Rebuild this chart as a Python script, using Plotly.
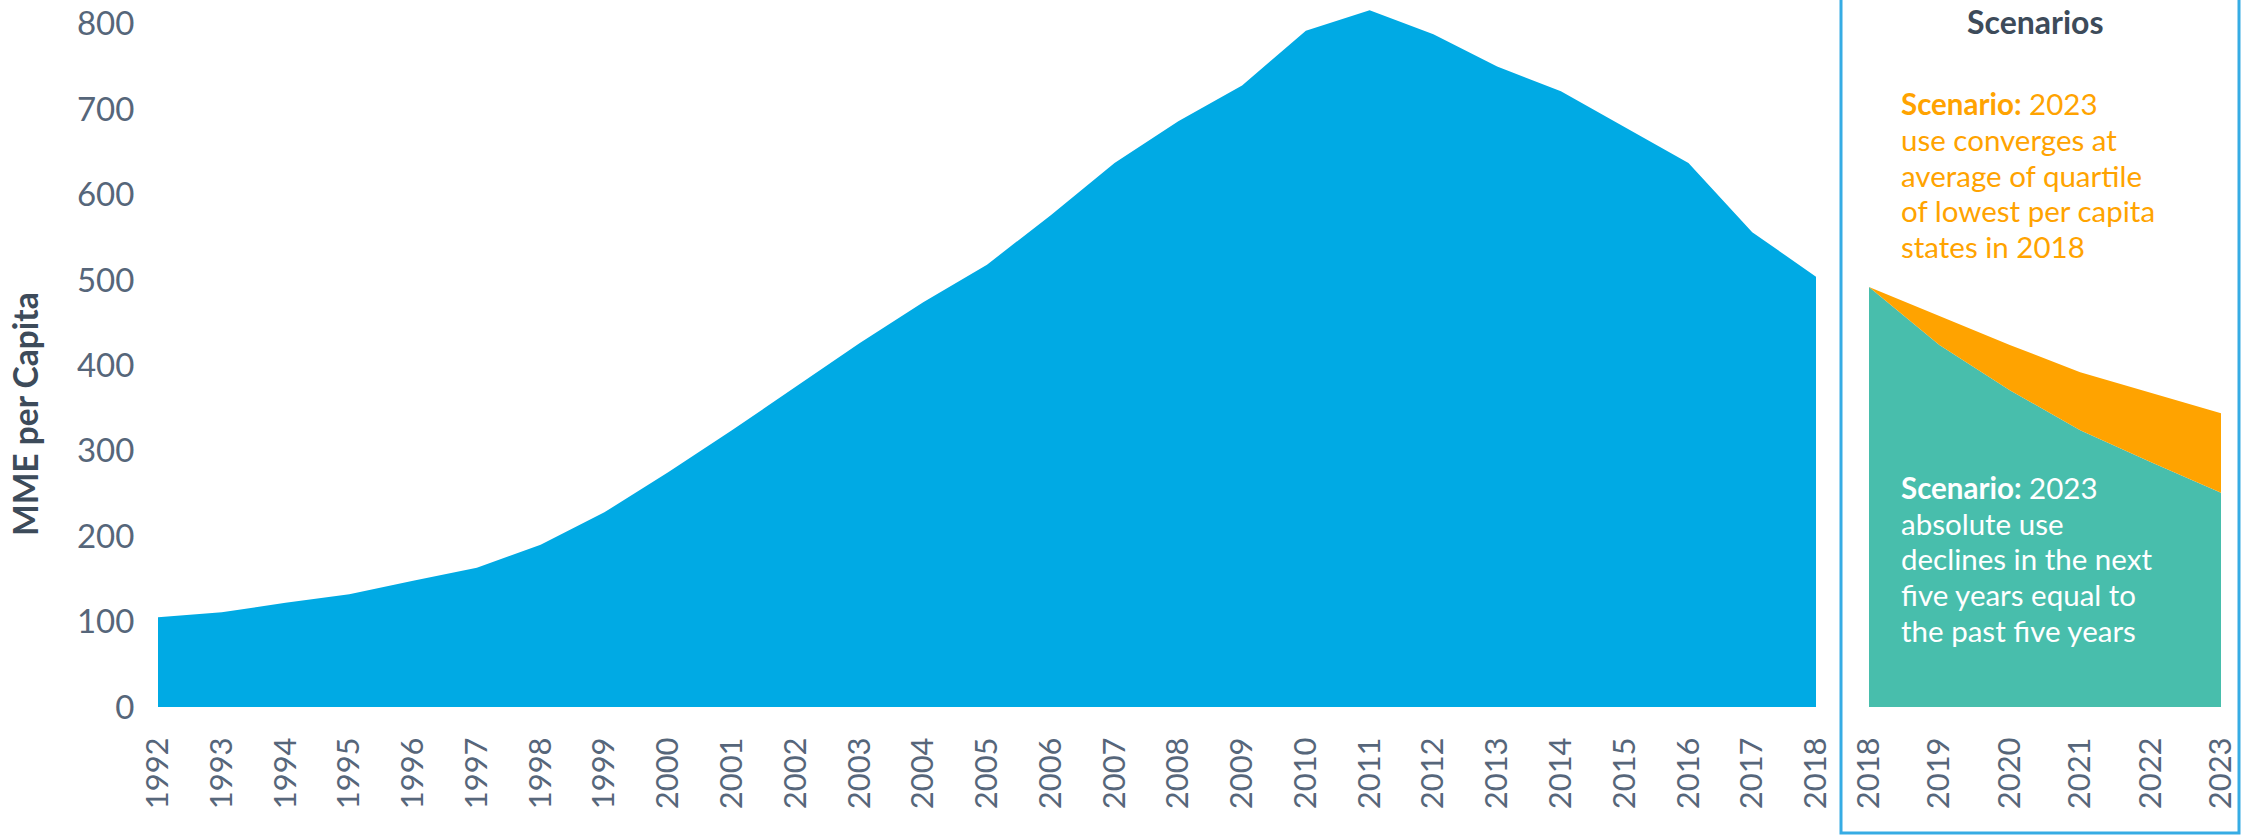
import plotly.graph_objects as go

# ---- data ----
years = list(range(1992, 2019))
mme_per_capita = [105, 111, 122, 132, 148, 163, 190, 228, 275, 324, 375, 426, 474, 518,
                  576, 637, 686, 728, 792, 816, 788, 750, 721, 679, 637, 556, 504]

scen_years = [2018, 2019, 2020, 2021, 2022, 2023]
scen_absolute_decline = [492, 424, 371, 324, 287, 251]
scen_quartile_converge = [492, 458, 424, 392, 368, 344]

y_ticks = [0, 100, 200, 300, 400, 500, 600, 700, 800]

orange_lines = ["<b>Scenario:</b> 2023", "use converges at", "average of quartile",
                "of lowest per capita", "states in 2018"]
white_lines = ["<b>Scenario:</b> 2023", "absolute use", "declines in the next",
               "five years equal to", "the past five years"]

BLUE = "#00AAE4"
TEAL = "#48BEAC"
ORANGE = "#FFA300"
TICK_COLOR = "#56667a"
DARK = "#3d4b5a"
FONT = "Lato"

W, H = 2242, 836
ML, MR, MT, MB = 158, 21, 0, 129
plot_w = W - ML - MR
plot_h = H - MT - MB


def px_x(px):
    return (px - ML) / plot_w


def px_y(py):
    return (H - MB - py) / plot_h


fig = go.Figure()

fig.add_trace(go.Scatter(
    x=years, y=mme_per_capita, mode="lines", fill="tozeroy",
    line=dict(width=0, color=BLUE), fillcolor=BLUE,
    xaxis="x", yaxis="y", showlegend=False, hoverinfo="x+y"))

fig.add_trace(go.Scatter(
    x=scen_years, y=scen_absolute_decline, mode="lines", fill="tozeroy",
    line=dict(width=0, color=TEAL), fillcolor=TEAL,
    xaxis="x2", yaxis="y", showlegend=False))

fig.add_trace(go.Scatter(
    x=scen_years, y=scen_quartile_converge, mode="lines", fill="tonexty",
    line=dict(width=0, color=ORANGE), fillcolor=ORANGE,
    xaxis="x2", yaxis="y", showlegend=False))

tickfont = dict(family=FONT, size=31, color=TICK_COLOR)

fig.update_layout(
    width=W, height=H,
    margin=dict(l=ML, r=MR, t=MT, b=MB, pad=0),
    paper_bgcolor="white", plot_bgcolor="white",
    xaxis=dict(domain=[0, px_x(1816)], range=[1992, 2018],
               tickmode="array", tickvals=years, ticktext=[str(y) for y in years],
               tickangle=-90, tickfont=tickfont,
               ticks="outside", ticklen=17, tickcolor="rgba(0,0,0,0)",
               showgrid=False, zeroline=False, showline=False, anchor="y"),
    xaxis2=dict(domain=[px_x(1869), 1], range=[2018, 2023],
                tickmode="array", tickvals=scen_years, ticktext=[str(y) for y in scen_years],
                tickangle=-90, tickfont=tickfont,
                ticks="outside", ticklen=17, tickcolor="rgba(0,0,0,0)",
                showgrid=False, zeroline=False, showline=False, anchor="y"),
    yaxis=dict(range=[0, 828], tickmode="array", tickvals=y_ticks,
               tickfont=dict(family=FONT, size=33, color=TICK_COLOR),
               ticks="outside", ticklen=16, tickcolor="rgba(0,0,0,0)",
               showgrid=False, zeroline=False, showline=False),
    showlegend=False,
)

# scenario box
fig.add_shape(type="rect", xref="paper", yref="paper",
              x0=px_x(1841), x1=px_x(2239), y0=px_y(833), y1=1.1,
              line=dict(color="#36ACE4", width=3), fillcolor="rgba(0,0,0,0)",
              layer="below")

fig.add_annotation(text="MME per Capita", xref="paper", yref="paper",
                   x=px_x(25), y=px_y(414), textangle=-90, showarrow=False,
                   xanchor="center", yanchor="middle",
                   font=dict(family=FONT, size=33.5, color=DARK, weight="bold"))

fig.add_annotation(text="Scenarios", xref="paper", yref="paper",
                   x=px_x(2035), y=px_y(21), showarrow=False,
                   xanchor="center", yanchor="middle",
                   font=dict(family=FONT, size=32, color=DARK, weight="bold"))

orange_y = [103, 139, 175, 211, 246]
white_y = [487, 523, 558, 594, 630]
for txt, yy in zip(orange_lines, orange_y):
    fig.add_annotation(text=txt, xref="paper", yref="paper", x=px_x(1899), y=px_y(yy),
                       showarrow=False, xanchor="left", yanchor="middle", align="left",
                       font=dict(family=FONT, size=29.5, color=ORANGE))
for txt, yy in zip(white_lines, white_y):
    fig.add_annotation(text=txt, xref="paper", yref="paper", x=px_x(1899), y=px_y(yy),
                       showarrow=False, xanchor="left", yanchor="middle", align="left",
                       font=dict(family=FONT, size=29.5, color="white"))

fig.write_html("out.html")
